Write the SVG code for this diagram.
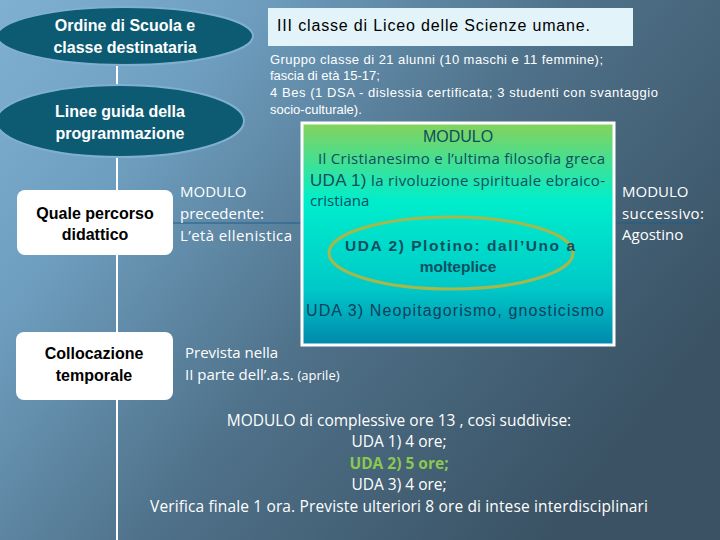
<svg xmlns="http://www.w3.org/2000/svg" width="720" height="540" viewBox="0 0 720 540">
<defs>
<linearGradient id="bg" x1="0" y1="0" x2="1" y2="0.6">
<stop offset="0" stop-color="#7fb0d2"/><stop offset="0.25" stop-color="#6f9fc0"/><stop offset="0.6" stop-color="#4e7088"/><stop offset="1" stop-color="#3a5264"/>
</linearGradient>
<linearGradient id="mod" x1="0" y1="0" x2="0" y2="1">
<stop offset="0" stop-color="#86d25a"/><stop offset="0.35" stop-color="#00eecc"/><stop offset="0.75" stop-color="#00c8c8"/><stop offset="1" stop-color="#0088aa"/>
</linearGradient>
<style>
.ell{fill:#0d5a73;stroke:#7fb0d2;stroke-width:2}
.box{fill:#ffffff;stroke:none}
.h{font-family:"Liberation Sans",Arial,sans-serif;font-weight:bold;font-size:16px;text-anchor:middle}
.c{font-family:"Open Sans","Liberation Sans",sans-serif;font-size:15px;fill:#ffffff}
.ln{stroke:#ffffff;stroke-width:2;fill:none}
.cl{stroke:#1f5f8a;stroke-width:1.2;fill:none}
</style>
</defs>
<rect width="720" height="540" fill="url(#bg)"/>
<g id="connectors">
<line class="ln" x1="117" y1="60" x2="117" y2="540"/>
<line class="cl" x1="172" y1="223" x2="302" y2="223"/>
<line class="cl" x1="615" y1="223" x2="700" y2="223"/>
</g>
<g id="n1"><ellipse class="ell" cx="125" cy="36" rx="128" ry="29"/>
<text class="h" fill="#ffffff" x="125" y="31">Ordine di Scuola e</text><text class="h" fill="#ffffff" x="125" y="53">classe destinataria</text></g>
<g id="n2"><ellipse class="ell" cx="120" cy="121" rx="124" ry="36"/>
<text class="h" fill="#ffffff" x="120" y="117">Linee guida della</text><text class="h" fill="#ffffff" x="120" y="139">programmazione</text></g>
<g id="n3"><rect class="box" x="17" y="190" width="156" height="65" rx="8"/>
<text class="h" fill="#000" x="95" y="219">Quale percorso</text><text class="h" fill="#000" x="95" y="240">didattico</text></g>
<g id="n4"><rect class="box" x="16" y="332" width="157" height="68" rx="8"/>
<text class="h" fill="#000" x="94" y="359">Collocazione</text><text class="h" fill="#000" x="94" y="381">temporale</text></g>
<g id="n5"><rect x="268" y="8" width="365" height="38" fill="#e2f3f9"/>
<text x="277" y="31" font-family="Liberation Sans,sans-serif" font-size="16" fill="#000" textLength="313">III classe di Liceo delle Scienze umane.</text></g>
<g id="n6" font-family="Liberation Sans,sans-serif" font-size="13" fill="#ffffff">
<text x="270" y="64" textLength="333">Gruppo classe di 21 alunni (10 maschi e 11 femmine);</text>
<text x="270" y="80">fascia di età 15-17;</text>
<text x="270" y="97" textLength="388">4 Bes (1 DSA  - dislessia certificata;  3 studenti con svantaggio</text>
<text x="270" y="114">socio-culturale).</text></g>
<g id="n7"><rect x="302" y="123" width="312" height="222" fill="url(#mod)" stroke="#ffffff" stroke-width="3"/>
<text x="458" y="142" text-anchor="middle" font-family="Liberation Sans,sans-serif" font-size="16" fill="#0d4f5f">MODULO</text>
<text x="318" y="164" font-family="Open Sans,sans-serif" font-size="15" fill="#0d4f5f" textLength="287">Il Cristianesimo e l’ultima filosofia greca</text>
<text x="310" y="186" font-family="Open Sans,sans-serif" font-size="15" fill="#0d4f5f" textLength="295"><tspan font-family="Liberation Sans,sans-serif" font-size="17">UDA 1)</tspan> la rivoluzione spirituale ebraico-</text>
<text x="310" y="206" font-family="Open Sans,sans-serif" font-size="15" fill="#0d4f5f">cristiana</text>
<ellipse cx="451" cy="253" rx="122" ry="36" fill="none" stroke="#a4b84c" stroke-width="3"/>
<text x="345" y="251" font-family="Liberation Sans,sans-serif" font-weight="bold" font-size="15.5" fill="#0d4f5f" textLength="230">UDA  2) Plotino: dall’Uno a</text>
<text x="458" y="272" text-anchor="middle" font-family="Liberation Sans,sans-serif" font-weight="bold" font-size="15.5" fill="#0d4f5f">molteplice</text>
<text x="306" y="316" font-family="Liberation Sans,sans-serif" font-size="16" fill="#0d3f5f" textLength="298">UDA 3) Neopitagorismo, gnosticismo</text></g>
<g id="n8"><text class="c" x="180" y="197">MODULO</text><text class="c" x="180" y="219">precedente:</text><text class="c" x="180" y="241" textLength="112">L’età ellenistica</text></g>
<g id="n9"><text class="c" x="622" y="197">MODULO</text><text class="c" x="622" y="219" textLength="82">successivo:</text><text class="c" x="622" y="240">Agostino</text></g>
<g id="n10"><text class="c" x="185" y="358">Prevista nella</text><text class="c" x="185" y="380">II parte dell’.a.s. <tspan font-size="13">(aprile)</tspan></text></g>
<g id="n11" font-family="Open Sans,sans-serif" font-size="15.5" fill="#ffffff" text-anchor="middle">
<text x="399" y="426">MODULO  di complessive ore  13 , così suddivise:</text>
<text x="399" y="447">UDA 1) 4 ore;</text>
<text x="399" y="469" fill="#8cc850" font-weight="bold">UDA 2) 5 ore;</text>
<text x="399" y="490">UDA 3) 4 ore;</text>
<text x="399" y="512" textLength="498">Verifica finale 1 ora. Previste ulteriori 8 ore di intese interdisciplinari</text></g>
</svg>
